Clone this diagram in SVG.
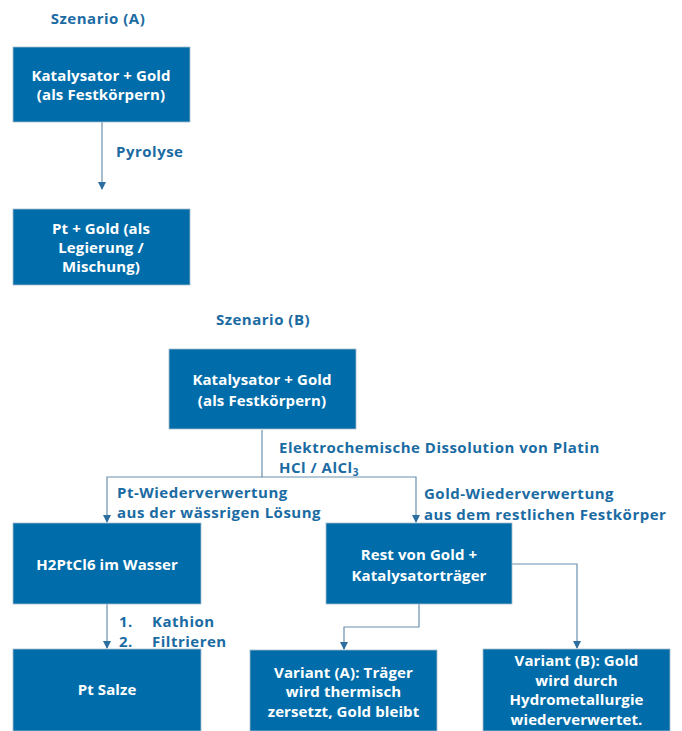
<svg xmlns="http://www.w3.org/2000/svg" width="682" height="731" viewBox="0 0 682 731">
<style>
.box{fill:#006DAA;stroke:#A9BCCB;stroke-width:0.8}
.bt{font-family:"Open Sans","DejaVu Sans",sans-serif;font-weight:bold;font-size:15px;letter-spacing:0.1px;fill:#FFFFFF;text-anchor:middle}
.lb{font-family:"Open Sans","DejaVu Sans",sans-serif;font-weight:bold;font-size:15px;letter-spacing:0.5px;fill:#1B6BA3}
.ttl{font-family:"Open Sans","DejaVu Sans",sans-serif;font-weight:bold;font-size:15px;letter-spacing:0.5px;fill:#1B6BA3;text-anchor:middle}
.ln{fill:none;stroke:#6B90B0;stroke-width:1.2}
</style>
<defs>
<marker id="ah" markerWidth="8" markerHeight="8" refX="7" refY="4" orient="auto" markerUnits="userSpaceOnUse">
<path d="M0,0 L8,4 L0,8 Z" fill="#2C6E9F"/>
</marker>
</defs>
<g id="titles">
<text class="ttl" x="98" y="24">Szenario (A)</text>
<text class="ttl" x="263" y="325">Szenario (B)</text>
</g>
<g id="connectors">
<line class="ln" x1="102" y1="122" x2="102" y2="189" marker-end="url(#ah)"/>
<polyline class="ln" points="262,430 262,477 107,477 107,522" marker-end="url(#ah)"/>
<polyline class="ln" points="262,477 416,477 416,522" marker-end="url(#ah)"/>
<line class="ln" x1="107" y1="604" x2="107" y2="648" marker-end="url(#ah)"/>
<polyline class="ln" points="419,604 419,627 344,627 344,649" marker-end="url(#ah)"/>
<polyline class="ln" points="512,564 577,564 577,648" marker-end="url(#ah)"/>
</g>
<g id="labels">
<text class="lb" x="116" y="157">Pyrolyse</text>
<text class="lb" x="279" y="453">Elektrochemische Dissolution von Platin</text>
<text class="lb" x="279" y="473">HCl / AlCl<tspan font-size="10" dy="3">3</tspan></text>
<text class="lb" x="117" y="498">Pt-Wiederverwertung</text>
<text class="lb" x="117" y="518">aus der wässrigen Lösung</text>
<text class="lb" x="424" y="499">Gold-Wiederverwertung</text>
<text class="lb" x="424" y="520">aus dem restlichen Festkörper</text>
<text class="lb" x="119" y="627">1.</text>
<text class="lb" x="152" y="627">Kathion</text>
<text class="lb" x="119" y="647">2.</text>
<text class="lb" x="152" y="647">Filtrieren</text>
</g>
<g id="n1">
<rect class="box" x="13" y="47" width="177" height="75"/>
<text class="bt" x="101" y="81">Katalysator + Gold</text>
<text class="bt" x="101" y="100">(als Festkörpern)</text>
</g>
<g id="n2">
<rect class="box" x="13" y="209" width="177" height="76"/>
<text class="bt" x="101" y="234">Pt + Gold (als</text>
<text class="bt" x="101" y="253">Legierung /</text>
<text class="bt" x="101" y="272">Mischung)</text>
</g>
<g id="n3">
<rect class="box" x="169" y="349" width="187" height="80"/>
<text class="bt" x="262" y="385">Katalysator + Gold</text>
<text class="bt" x="262" y="406">(als Festkörpern)</text>
</g>
<g id="n4">
<rect class="box" x="13" y="523" width="188" height="81"/>
<text class="bt" x="107" y="570">H2PtCl6 im Wasser</text>
</g>
<g id="n5">
<rect class="box" x="326" y="523" width="186" height="81"/>
<text class="bt" x="419" y="560">Rest von Gold +</text>
<text class="bt" x="419" y="581">Katalysatorträger</text>
</g>
<g id="n6">
<rect class="box" x="13" y="649" width="188" height="82"/>
<text class="bt" x="107" y="695">Pt Salze</text>
</g>
<g id="n7">
<rect class="box" x="250" y="650" width="187" height="81"/>
<text class="bt" x="343.5" y="678">Variant (A): Träger</text>
<text class="bt" x="343.5" y="697">wird thermisch</text>
<text class="bt" x="343.5" y="717">zersetzt, Gold bleibt</text>
</g>
<g id="n8">
<rect class="box" x="483" y="649" width="187" height="82"/>
<text class="bt" x="576.5" y="666">Variant (B): Gold</text>
<text class="bt" x="576.5" y="686">wird durch</text>
<text class="bt" x="576.5" y="705">Hydrometallurgie</text>
<text class="bt" x="576.5" y="725">wiederverwertet.</text>
</g>
</svg>
